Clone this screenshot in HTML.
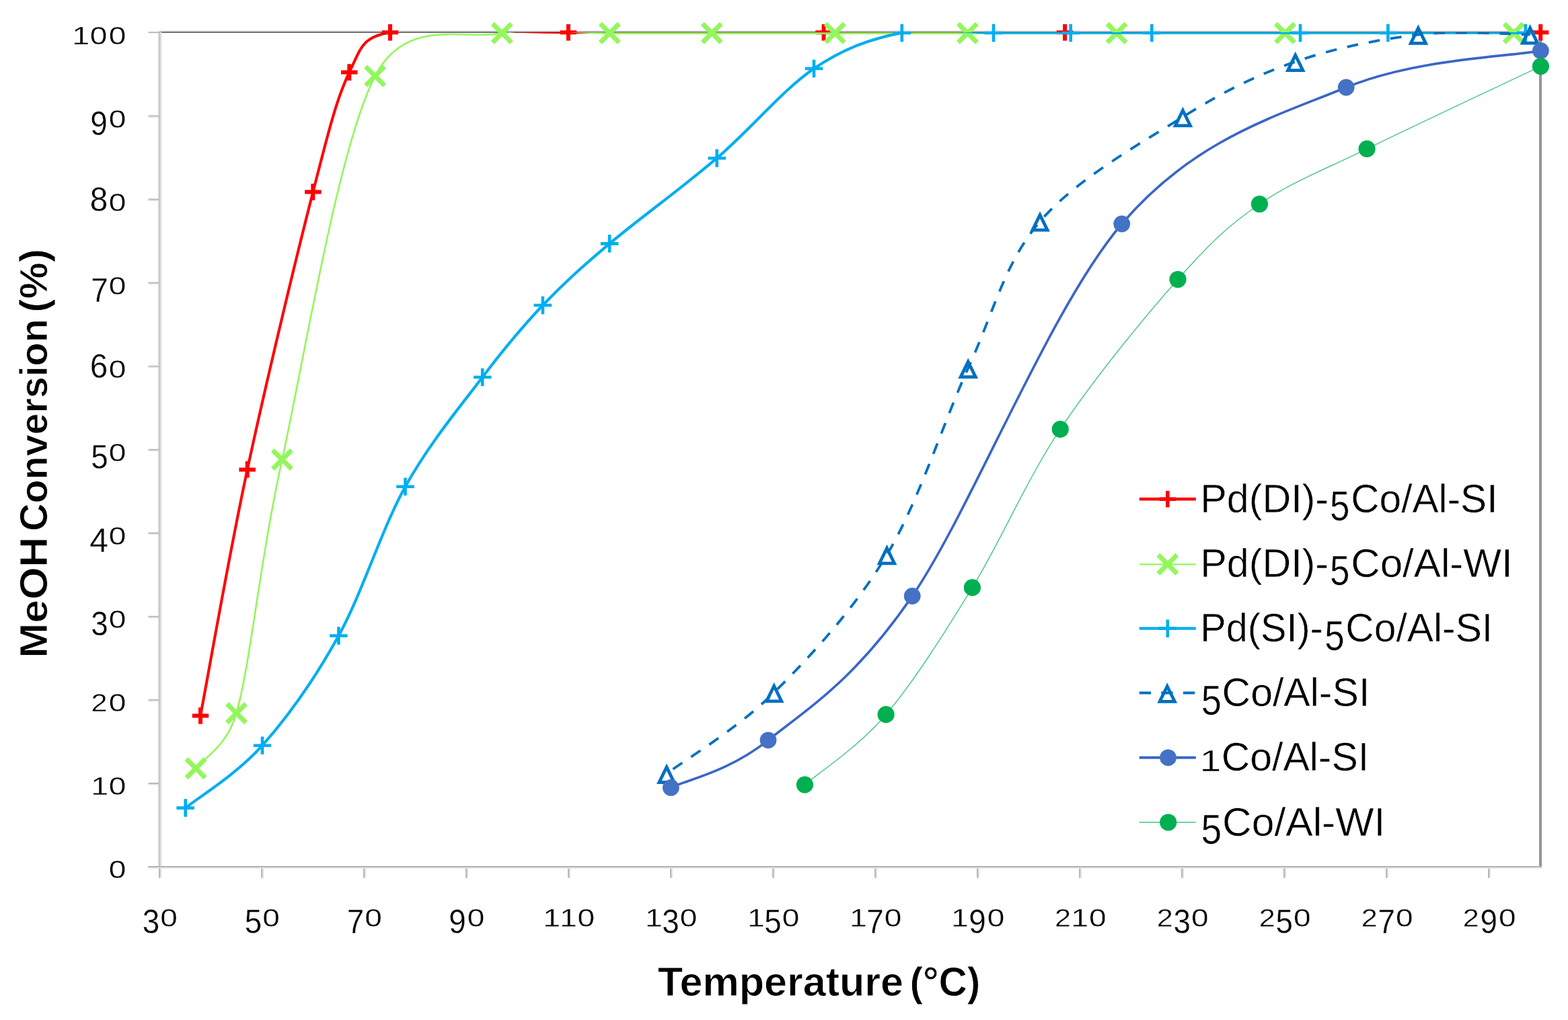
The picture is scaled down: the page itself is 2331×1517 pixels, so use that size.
<!DOCTYPE html><html><head><meta charset="utf-8"><title>MeOH Conversion vs Temperature</title>
<style>html,body{margin:0;padding:0;background:#fff;}svg{display:block;}text{font-family:"Liberation Sans",Arial,sans-serif;fill:#000;}text.d{stroke:#fff;stroke-width:0.35px;}text.l{stroke:#fff;stroke-width:0.5px;}text.t{stroke:#fff;stroke-width:0.8px;}</style></head><body>
<svg width="2331" height="1517" viewBox="0 0 2331 1517">
<rect width="2331" height="1517" fill="#fff"/>
<defs><clipPath id="pa"><rect x="238" y="48" width="2052" height="1241"/></clipPath></defs>
<path d="M220.5,174.1H237M220.5,298.2H237M220.5,422.2H237M220.5,546.3H237M220.5,670.4H237M220.5,794.5H237M220.5,918.6H237M220.5,1042.6H237M220.5,1166.7H237M220.5,1290.8H237" stroke="#E2E2E2" stroke-width="1.6" fill="none"/>
<path d="M220.5,48.3H237M220.5,172.4H237M220.5,296.5H237M220.5,420.5H237M220.5,544.6H237M220.5,668.7H237M220.5,792.8H237M220.5,916.9H237M220.5,1040.9H237M220.5,1165H237M220.5,1289.1H237" stroke="#B8B8B8" stroke-width="1.9" fill="none"/>
<path d="M238.9,1289V1305.8M390.9,1289V1305.8M542.9,1289V1305.8M694.9,1289V1305.8M846.9,1289V1305.8M998.9,1289V1305.8M1150.9,1289V1305.8M1302.9,1289V1305.8M1454.9,1289V1305.8M1606.9,1289V1305.8M1758.9,1289V1305.8M1910.9,1289V1305.8M2062.9,1289V1305.8M2214.9,1289V1305.8" stroke="#DDDDDD" stroke-width="1.8" fill="none"/>
<path d="M237,1289V1305.8M389,1289V1305.8M541,1289V1305.8M693,1289V1305.8M845,1289V1305.8M997,1289V1305.8M1149,1289V1305.8M1301,1289V1305.8M1453,1289V1305.8M1605,1289V1305.8M1757,1289V1305.8M1909,1289V1305.8M2061,1289V1305.8M2213,1289V1305.8" stroke="#B8B8B8" stroke-width="2" fill="none"/>
<path d="M237,46.2H2292" stroke="#E2DDE6" stroke-width="2" fill="none"/>
<path d="M237,48H2292" stroke="#727272" stroke-width="2" fill="none"/>
<path d="M2290,47.5V1290" stroke="#959595" stroke-width="4" fill="none"/>
<path d="M238.9,47.5V1290.8" stroke="#DCDCDC" stroke-width="2.8" fill="none"/>
<path d="M236.6,47.5V1290.8" stroke="#BBBBBB" stroke-width="1.9" fill="none"/>
<path d="M220.5,1290.85H2292" stroke="#E6E6E6" stroke-width="1.7" fill="none"/>
<path d="M220.5,1289H2292" stroke="#B3B3B3" stroke-width="2" fill="none"/>
<text class="d" x="120.2" y="65.6" font-size="36" text-anchor="middle" textLength="26" lengthAdjust="spacingAndGlyphs">1</text>
<text class="d" x="146.6" y="65.6" font-size="36" text-anchor="middle" textLength="25.6" lengthAdjust="spacingAndGlyphs">0</text>
<text class="d" x="174.6" y="65.6" font-size="36" text-anchor="middle" textLength="25.6" lengthAdjust="spacingAndGlyphs">0</text>
<text class="d" x="147.1" y="200.5" font-size="50.5" text-anchor="middle" textLength="25.5" lengthAdjust="spacingAndGlyphs">9</text>
<text class="d" x="174.6" y="189.7" font-size="36" text-anchor="middle" textLength="25.6" lengthAdjust="spacingAndGlyphs">0</text>
<text class="d" x="147.1" y="313.8" font-size="50.5" text-anchor="middle" textLength="26.5" lengthAdjust="spacingAndGlyphs">8</text>
<text class="d" x="174.6" y="313.8" font-size="36" text-anchor="middle" textLength="25.6" lengthAdjust="spacingAndGlyphs">0</text>
<text class="d" x="148.1" y="448.6" font-size="50.5" text-anchor="middle" textLength="25.5" lengthAdjust="spacingAndGlyphs">7</text>
<text class="d" x="174.6" y="437.8" font-size="36" text-anchor="middle" textLength="25.6" lengthAdjust="spacingAndGlyphs">0</text>
<text class="d" x="147.1" y="561.9" font-size="50.5" text-anchor="middle" textLength="26.5" lengthAdjust="spacingAndGlyphs">6</text>
<text class="d" x="174.6" y="561.9" font-size="36" text-anchor="middle" textLength="25.6" lengthAdjust="spacingAndGlyphs">0</text>
<text class="d" x="148.1" y="696.8" font-size="50.5" text-anchor="middle" textLength="25.5" lengthAdjust="spacingAndGlyphs">5</text>
<text class="d" x="174.6" y="686" font-size="36" text-anchor="middle" textLength="25.6" lengthAdjust="spacingAndGlyphs">0</text>
<text class="d" x="147.1" y="820.9" font-size="50.5" text-anchor="middle" textLength="27.8" lengthAdjust="spacingAndGlyphs">4</text>
<text class="d" x="174.6" y="810.1" font-size="36" text-anchor="middle" textLength="25.6" lengthAdjust="spacingAndGlyphs">0</text>
<text class="d" x="148.1" y="945" font-size="50.5" text-anchor="middle" textLength="25.5" lengthAdjust="spacingAndGlyphs">3</text>
<text class="d" x="174.6" y="934.2" font-size="36" text-anchor="middle" textLength="25.6" lengthAdjust="spacingAndGlyphs">0</text>
<text class="d" x="147.6" y="1058.2" font-size="36" text-anchor="middle" textLength="24" lengthAdjust="spacingAndGlyphs">2</text>
<text class="d" x="174.6" y="1058.2" font-size="36" text-anchor="middle" textLength="25.6" lengthAdjust="spacingAndGlyphs">0</text>
<text class="d" x="148.2" y="1182.3" font-size="36" text-anchor="middle" textLength="26" lengthAdjust="spacingAndGlyphs">1</text>
<text class="d" x="174.6" y="1182.3" font-size="36" text-anchor="middle" textLength="25.6" lengthAdjust="spacingAndGlyphs">0</text>
<text class="d" x="174.6" y="1306.4" font-size="36" text-anchor="middle" textLength="25.6" lengthAdjust="spacingAndGlyphs">0</text>
<text class="d" x="224.6" y="1388.3" font-size="50.5" text-anchor="middle" textLength="25.5" lengthAdjust="spacingAndGlyphs">3</text>
<text class="d" x="251.1" y="1377.5" font-size="36" text-anchor="middle" textLength="25.6" lengthAdjust="spacingAndGlyphs">0</text>
<text class="d" x="376.6" y="1388.3" font-size="50.5" text-anchor="middle" textLength="25.5" lengthAdjust="spacingAndGlyphs">5</text>
<text class="d" x="403.1" y="1377.5" font-size="36" text-anchor="middle" textLength="25.6" lengthAdjust="spacingAndGlyphs">0</text>
<text class="d" x="528.5" y="1388.3" font-size="50.5" text-anchor="middle" textLength="25.5" lengthAdjust="spacingAndGlyphs">7</text>
<text class="d" x="555" y="1377.5" font-size="36" text-anchor="middle" textLength="25.6" lengthAdjust="spacingAndGlyphs">0</text>
<text class="d" x="680" y="1388.3" font-size="50.5" text-anchor="middle" textLength="25.5" lengthAdjust="spacingAndGlyphs">9</text>
<text class="d" x="707.5" y="1377.5" font-size="36" text-anchor="middle" textLength="25.6" lengthAdjust="spacingAndGlyphs">0</text>
<text class="d" x="820.2" y="1377.5" font-size="36" text-anchor="middle" textLength="26" lengthAdjust="spacingAndGlyphs">1</text>
<text class="d" x="845" y="1377.5" font-size="36" text-anchor="middle" textLength="26" lengthAdjust="spacingAndGlyphs">1</text>
<text class="d" x="871.4" y="1377.5" font-size="36" text-anchor="middle" textLength="25.6" lengthAdjust="spacingAndGlyphs">0</text>
<text class="d" x="972.1" y="1377.5" font-size="36" text-anchor="middle" textLength="26" lengthAdjust="spacingAndGlyphs">1</text>
<text class="d" x="997" y="1388.3" font-size="50.5" text-anchor="middle" textLength="25.5" lengthAdjust="spacingAndGlyphs">3</text>
<text class="d" x="1023.5" y="1377.5" font-size="36" text-anchor="middle" textLength="25.6" lengthAdjust="spacingAndGlyphs">0</text>
<text class="d" x="1124.1" y="1377.5" font-size="36" text-anchor="middle" textLength="26" lengthAdjust="spacingAndGlyphs">1</text>
<text class="d" x="1149" y="1388.3" font-size="50.5" text-anchor="middle" textLength="25.5" lengthAdjust="spacingAndGlyphs">5</text>
<text class="d" x="1175.5" y="1377.5" font-size="36" text-anchor="middle" textLength="25.6" lengthAdjust="spacingAndGlyphs">0</text>
<text class="d" x="1276.1" y="1377.5" font-size="36" text-anchor="middle" textLength="26" lengthAdjust="spacingAndGlyphs">1</text>
<text class="d" x="1301" y="1388.3" font-size="50.5" text-anchor="middle" textLength="25.5" lengthAdjust="spacingAndGlyphs">7</text>
<text class="d" x="1327.5" y="1377.5" font-size="36" text-anchor="middle" textLength="25.6" lengthAdjust="spacingAndGlyphs">0</text>
<text class="d" x="1427.1" y="1377.5" font-size="36" text-anchor="middle" textLength="26" lengthAdjust="spacingAndGlyphs">1</text>
<text class="d" x="1453" y="1388.3" font-size="50.5" text-anchor="middle" textLength="25.5" lengthAdjust="spacingAndGlyphs">9</text>
<text class="d" x="1480.5" y="1377.5" font-size="36" text-anchor="middle" textLength="25.6" lengthAdjust="spacingAndGlyphs">0</text>
<text class="d" x="1579.9" y="1377.5" font-size="36" text-anchor="middle" textLength="24" lengthAdjust="spacingAndGlyphs">2</text>
<text class="d" x="1605.3" y="1377.5" font-size="36" text-anchor="middle" textLength="26" lengthAdjust="spacingAndGlyphs">1</text>
<text class="d" x="1631.7" y="1377.5" font-size="36" text-anchor="middle" textLength="25.6" lengthAdjust="spacingAndGlyphs">0</text>
<text class="d" x="1731.8" y="1377.5" font-size="36" text-anchor="middle" textLength="24" lengthAdjust="spacingAndGlyphs">2</text>
<text class="d" x="1757.3" y="1388.3" font-size="50.5" text-anchor="middle" textLength="25.5" lengthAdjust="spacingAndGlyphs">3</text>
<text class="d" x="1783.8" y="1377.5" font-size="36" text-anchor="middle" textLength="25.6" lengthAdjust="spacingAndGlyphs">0</text>
<text class="d" x="1883.8" y="1377.5" font-size="36" text-anchor="middle" textLength="24" lengthAdjust="spacingAndGlyphs">2</text>
<text class="d" x="1909.3" y="1388.3" font-size="50.5" text-anchor="middle" textLength="25.5" lengthAdjust="spacingAndGlyphs">5</text>
<text class="d" x="1935.8" y="1377.5" font-size="36" text-anchor="middle" textLength="25.6" lengthAdjust="spacingAndGlyphs">0</text>
<text class="d" x="2035.8" y="1377.5" font-size="36" text-anchor="middle" textLength="24" lengthAdjust="spacingAndGlyphs">2</text>
<text class="d" x="2061.3" y="1388.3" font-size="50.5" text-anchor="middle" textLength="25.5" lengthAdjust="spacingAndGlyphs">7</text>
<text class="d" x="2087.8" y="1377.5" font-size="36" text-anchor="middle" textLength="25.6" lengthAdjust="spacingAndGlyphs">0</text>
<text class="d" x="2186.8" y="1377.5" font-size="36" text-anchor="middle" textLength="24" lengthAdjust="spacingAndGlyphs">2</text>
<text class="d" x="2213.3" y="1388.3" font-size="50.5" text-anchor="middle" textLength="25.5" lengthAdjust="spacingAndGlyphs">9</text>
<text class="d" x="2240.8" y="1377.5" font-size="36" text-anchor="middle" textLength="25.6" lengthAdjust="spacingAndGlyphs">0</text>
<path clip-path="url(#pa)" d="M298,1064.5 C309.6,1003.5 339.8,828.2 367.7,698.4 C395.6,568.6 440,384 465.3,285.5 C488.4,195.4 500.2,147.1 519.3,107.5 C537.8,69.2 538.2,55.6 580,47.9 C634.3,38 737.5,47.9 844.9,47.9 C952.3,47.9 1101.6,47.9 1224.6,47.9 C1347.6,47.9 1405.5,47.9 1583.1,47.9 C1760.7,47.9 2172.3,47.9 2290.2,47.9" stroke="#FF0000" stroke-width="4.1" fill="none" stroke-linejoin="round"/>
<path d="M285.8,1064.5H310.2M298,1052.2V1076.8" stroke="#FF0000" stroke-width="6" fill="none"/>
<path d="M355.4,698.4H379.9M367.7,686.1V710.6" stroke="#FF0000" stroke-width="6" fill="none"/>
<path d="M453.1,285.5H477.6M465.3,273.2V297.8" stroke="#FF0000" stroke-width="6" fill="none"/>
<path d="M507,107.5H531.5M519.3,95.2V119.8" stroke="#FF0000" stroke-width="6" fill="none"/>
<path d="M567.8,48.2H592.2M580,36V60.5" stroke="#FF0000" stroke-width="6" fill="none"/>
<path d="M832.6,48.2H857.1M844.9,36V60.5" stroke="#FF0000" stroke-width="6" fill="none"/>
<path d="M1212.3,48.2H1236.8M1224.6,36V60.5" stroke="#FF0000" stroke-width="6" fill="none"/>
<path d="M1570.8,48.2H1595.3M1583.1,36V60.5" stroke="#FF0000" stroke-width="6" fill="none"/>
<path d="M2277.9,48.3H2302.4M2290.2,36V60.5" stroke="#FF0000" stroke-width="6" fill="none"/>
<path clip-path="url(#pa)" d="M291.1,1142.8 C301.2,1129.1 337.8,1109.8 351.5,1060.7 C372.9,984.2 385,841.4 419.4,683.5 C453.8,525.6 503.1,218.8 557.6,113.1 C603.2,24.6 688.2,60.2 746.3,49.6 C804.4,39 854.4,49.6 906.4,49.6 C958.4,49.6 1002.5,49.6 1058.3,49.6 C1114.1,49.6 1177.9,49.6 1241.3,49.6 C1304.7,49.6 1368.6,49.6 1438.4,49.6 C1508.2,49.6 1581.3,49.6 1660,49.6 C1738.7,49.6 1812.1,49.6 1910.5,49.6 C2008.9,49.6 2193.7,49.6 2250.3,49.6" stroke="#92F75C" stroke-width="2.6" fill="none" stroke-linejoin="round"/>
<path d="M277.1,1128.8L305.1,1156.8M277.1,1156.8L305.1,1128.8" stroke="#92F75C" stroke-width="7" fill="none"/>
<path d="M337.5,1046.7L365.5,1074.7M337.5,1074.7L365.5,1046.7" stroke="#92F75C" stroke-width="7" fill="none"/>
<path d="M405.4,669.5L433.4,697.5M405.4,697.5L433.4,669.5" stroke="#92F75C" stroke-width="7" fill="none"/>
<path d="M543.6,99.1L571.6,127.1M543.6,127.1L571.6,99.1" stroke="#92F75C" stroke-width="7" fill="none"/>
<path d="M732.3,35.3L760.3,63.3M732.3,63.3L760.3,35.3" stroke="#92F75C" stroke-width="7" fill="none"/>
<path d="M892.4,35.3L920.4,63.3M892.4,63.3L920.4,35.3" stroke="#92F75C" stroke-width="7" fill="none"/>
<path d="M1044.3,35.3L1072.3,63.3M1044.3,63.3L1072.3,35.3" stroke="#92F75C" stroke-width="7" fill="none"/>
<path d="M1227.3,35.3L1255.3,63.3M1227.3,63.3L1255.3,35.3" stroke="#92F75C" stroke-width="7" fill="none"/>
<path d="M1424.4,35.3L1452.4,63.3M1424.4,63.3L1452.4,35.3" stroke="#92F75C" stroke-width="7" fill="none"/>
<path d="M1646,35.3L1674,63.3M1646,63.3L1674,35.3" stroke="#92F75C" stroke-width="7" fill="none"/>
<path d="M1896.5,35.3L1924.5,63.3M1896.5,63.3L1924.5,35.3" stroke="#92F75C" stroke-width="7" fill="none"/>
<path d="M2236.3,35.3L2264.3,63.3M2236.3,63.3L2264.3,35.3" stroke="#92F75C" stroke-width="7" fill="none"/>
<path clip-path="url(#pa)" d="M275.7,1201.6 C294.8,1186.1 352.1,1151.4 390,1108.7 C427.9,1066 468,1009.6 503.4,945.5 C538.8,881.4 566.9,787.9 602.5,723.8 C638.1,659.7 683.1,606 717.2,561 C751.3,516 775.4,487.1 806.9,454 C838.4,420.9 863,398.9 906.1,362.4 C949.2,325.9 1015.1,278.6 1065.7,235.2 C1116.4,191.8 1164.2,133.1 1210,102 C1255.8,70.9 1296.3,57.5 1340.8,48.6 C1385.3,39.7 1435.2,48.6 1477,48.6 C1518.8,48.6 1552.5,48.6 1591.7,48.6 C1630.9,48.6 1655.4,48.6 1712.3,48.6 C1769.2,48.6 1874.5,48.6 1933,48.6 C1991.5,48.6 2007.6,48.6 2063.4,48.6 C2119.2,48.6 2233.8,48.6 2267.9,48.6" stroke="#00AEEF" stroke-width="4.2" fill="none" stroke-linejoin="round"/>
<path d="M262.4,1201.6H288.9M275.7,1188.3V1214.8" stroke="#00AEEF" stroke-width="4.6" fill="none"/>
<path d="M376.8,1108.7H403.2M390,1095.5V1122" stroke="#00AEEF" stroke-width="4.6" fill="none"/>
<path d="M490.1,945.5H516.6M503.4,932.2V958.8" stroke="#00AEEF" stroke-width="4.6" fill="none"/>
<path d="M589.2,723.8H615.8M602.5,710.5V737" stroke="#00AEEF" stroke-width="4.6" fill="none"/>
<path d="M704,561H730.5M717.2,547.8V574.2" stroke="#00AEEF" stroke-width="4.6" fill="none"/>
<path d="M793.6,454H820.1M806.9,440.8V467.2" stroke="#00AEEF" stroke-width="4.6" fill="none"/>
<path d="M892.9,362.4H919.4M906.1,349.1V375.6" stroke="#00AEEF" stroke-width="4.6" fill="none"/>
<path d="M1052.5,235.2H1079M1065.7,221.9V248.4" stroke="#00AEEF" stroke-width="4.6" fill="none"/>
<path d="M1196.8,102H1223.2M1210,88.8V115.2" stroke="#00AEEF" stroke-width="4.6" fill="none"/>
<path d="M1327.5,49H1354M1340.8,35.8V62.2" stroke="#00AEEF" stroke-width="4.6" fill="none"/>
<path d="M1463.8,49H1490.2M1477,35.8V62.2" stroke="#00AEEF" stroke-width="4.6" fill="none"/>
<path d="M1578.5,49H1605M1591.7,35.8V62.2" stroke="#00AEEF" stroke-width="4.6" fill="none"/>
<path d="M1699,49H1725.5M1712.3,35.8V62.2" stroke="#00AEEF" stroke-width="4.6" fill="none"/>
<path d="M1919.8,49H1946.2M1933,35.8V62.2" stroke="#00AEEF" stroke-width="4.6" fill="none"/>
<path d="M2050.2,49H2076.7M2063.4,35.8V62.2" stroke="#00AEEF" stroke-width="4.6" fill="none"/>
<path d="M2254.7,49H2281.2M2267.9,35.8V62.2" stroke="#00AEEF" stroke-width="4.6" fill="none"/>
<path clip-path="url(#pa)" d="M991,1150.7 C1017.6,1130.6 1096.1,1084.3 1150.7,1030 C1205.3,975.7 1270.4,905.4 1318.5,825 C1366.6,744.6 1401.3,630.4 1439.2,547.8 C1477.1,465.2 1492.8,391.7 1546,329.4 C1599.2,267.1 1695.1,213.6 1758.4,174 C1821.7,134.4 1867.4,112.2 1925.7,91.8 C1984,71.4 2050.2,58.4 2108.4,51.6 C2166.6,44.9 2246.9,51.3 2274.6,51.3" stroke="#0070C0" stroke-width="3.8" fill="none" stroke-linejoin="round" stroke-dashoffset="20.8" stroke-dasharray="16.7 15.9"/>
<path d="M991,1140.9L1002.1,1163.5L979.9,1163.5Z" stroke="#0070C0" stroke-width="4.8" fill="none" stroke-linejoin="miter"/>
<path d="M1150.7,1020.2L1161.8,1042.8L1139.6,1042.8Z" stroke="#0070C0" stroke-width="4.8" fill="none" stroke-linejoin="miter"/>
<path d="M1318.5,815.2L1329.6,837.8L1307.4,837.8Z" stroke="#0070C0" stroke-width="4.8" fill="none" stroke-linejoin="miter"/>
<path d="M1439.2,538L1450.3,560.6L1428.1,560.6Z" stroke="#0070C0" stroke-width="4.8" fill="none" stroke-linejoin="miter"/>
<path d="M1546,319.6L1557.1,342.2L1534.9,342.2Z" stroke="#0070C0" stroke-width="4.8" fill="none" stroke-linejoin="miter"/>
<path d="M1758.4,164.2L1769.5,186.8L1747.3,186.8Z" stroke="#0070C0" stroke-width="4.8" fill="none" stroke-linejoin="miter"/>
<path d="M1925.7,82L1936.8,104.6L1914.6,104.6Z" stroke="#0070C0" stroke-width="4.8" fill="none" stroke-linejoin="miter"/>
<path d="M2108.4,41.8L2119.5,64.4L2097.3,64.4Z" stroke="#0070C0" stroke-width="4.8" fill="none" stroke-linejoin="miter"/>
<path d="M2274.6,41.5L2285.7,64.1L2263.5,64.1Z" stroke="#0070C0" stroke-width="4.8" fill="none" stroke-linejoin="miter"/>
<path clip-path="url(#pa)" d="M997.4,1171.4 C1021.5,1159.6 1082.2,1148.3 1142,1100.8 C1201.8,1053.3 1270.6,1011.5 1356.2,886.5 C1443.8,758.5 1560.2,459.1 1667.7,333 C1775.2,206.9 1897.4,172.9 2001.2,130 C2105,87.1 2242.2,84.5 2290.4,75.4" stroke="#3A66C6" stroke-width="3.6" fill="none" stroke-linejoin="round"/>
<circle cx="997.4" cy="1171.4" r="12.4" fill="#4472C4"/>
<circle cx="1142" cy="1100.8" r="12.4" fill="#4472C4"/>
<circle cx="1356.2" cy="886.5" r="12.4" fill="#4472C4"/>
<circle cx="1667.7" cy="333" r="12.4" fill="#4472C4"/>
<circle cx="2001.2" cy="130" r="12.4" fill="#4472C4"/>
<circle cx="2290.4" cy="75.4" r="12.4" fill="#4472C4"/>
<path clip-path="url(#pa)" d="M1196.4,1167.1 C1216.5,1149.7 1275.6,1111.6 1317.1,1062.7 C1358.6,1013.8 1402.2,944.6 1445.4,873.9 C1488.6,803.2 1525.3,714.8 1576.2,638.4 C1627.1,562 1701.6,471.3 1751,415.5 C1800.4,359.7 1825.6,335.9 1872.4,303.5 C1919.2,271.1 1962.4,255.5 2032.1,221.3 C2101.8,187.2 2247.3,119 2290.4,98.6" stroke="#00B050" stroke-width="1.5" fill="none" stroke-linejoin="round" stroke-opacity="0.7"/>
<circle cx="1196.4" cy="1167.1" r="12.6" fill="#00B050"/>
<circle cx="1317.1" cy="1062.7" r="12.6" fill="#00B050"/>
<circle cx="1445.4" cy="873.9" r="12.6" fill="#00B050"/>
<circle cx="1576.2" cy="638.4" r="12.6" fill="#00B050"/>
<circle cx="1751" cy="415.5" r="12.6" fill="#00B050"/>
<circle cx="1872.4" cy="303.5" r="12.6" fill="#00B050"/>
<circle cx="2032.1" cy="221.3" r="12.6" fill="#00B050"/>
<circle cx="2290.4" cy="98.6" r="12.6" fill="#00B050"/>
<path d="M1693.7,742.3H1777.8" stroke="#FF0000" stroke-width="4.6"/>
<path d="M1723.5,742.3H1748M1735.8,730V754.5" stroke="#FF0000" stroke-width="5.6" fill="none"/>
<path d="M1693.7,839.3H1777.8" stroke="#92F75C" stroke-width="2.2"/>
<path d="M1721.8,825.3L1749.8,853.3M1721.8,853.3L1749.8,825.3" stroke="#92F75C" stroke-width="7" fill="none"/>
<path d="M1693.7,934.6H1777.8" stroke="#00AEEF" stroke-width="4.2"/>
<path d="M1722.5,934.6H1749M1735.8,921.4V947.9" stroke="#00AEEF" stroke-width="4.6" fill="none"/>
<path d="M1693.7,1030.5H1777.8" stroke="#0070C0" stroke-width="3.8" stroke-dasharray="17.3 15.3"/>
<path d="M1735.2,1020.7L1746.3,1043.3L1724.1,1043.3Z" stroke="#0070C0" stroke-width="4.8" fill="none" stroke-linejoin="miter"/>
<path d="M1693.7,1126.8H1777.8" stroke="#3A66C6" stroke-width="4"/>
<circle cx="1736.5" cy="1126.8" r="12.4" fill="#4472C4"/>
<path d="M1693.7,1223H1777.8" stroke="#00B050" stroke-width="1.6" stroke-opacity="0.75"/>
<circle cx="1736.7" cy="1223" r="12.6" fill="#00B050"/>
<text class="t" x="977.8" y="1480.7" font-size="60.5" font-weight="bold" textLength="365.2" lengthAdjust="spacingAndGlyphs">Temperature</text>
<text class="t" x="1352.5" y="1480.7" font-size="60.5" font-weight="bold" textLength="104.9" lengthAdjust="spacingAndGlyphs">(°C)</text>
<text class="t" transform="translate(70,974) rotate(-90)" x="-4.4" y="0" font-size="58" font-weight="bold" textLength="180" lengthAdjust="spacingAndGlyphs">MeOH</text>
<text class="t" transform="translate(70,787) rotate(-90)" x="-2.9" y="0" font-size="58" font-weight="bold" textLength="315.6" lengthAdjust="spacingAndGlyphs">Conversion</text>
<text class="t" transform="translate(70,461) rotate(-90)" x="-3.7" y="0" font-size="58" font-weight="bold" textLength="94.8" lengthAdjust="spacingAndGlyphs">(%)</text>
<text class="l" x="1784.2" y="761.6" font-size="60" textLength="190.9" lengthAdjust="spacingAndGlyphs">Pd(DI)-</text>
<text class="l" x="1977.1" y="774.1" font-size="62.2" textLength="29.4" lengthAdjust="spacingAndGlyphs">5</text>
<text class="l" x="2008.3" y="761.6" font-size="60" textLength="218.2" lengthAdjust="spacingAndGlyphs">Co/Al-SI</text>
<text class="l" x="1784.2" y="857.8" font-size="60" textLength="190.9" lengthAdjust="spacingAndGlyphs">Pd(DI)-</text>
<text class="l" x="1977.1" y="870.3" font-size="62.2" textLength="29.4" lengthAdjust="spacingAndGlyphs">5</text>
<text class="l" x="2008.2" y="857.8" font-size="60" textLength="240.6" lengthAdjust="spacingAndGlyphs">Co/Al-WI</text>
<text class="l" x="1784.3" y="954" font-size="60" textLength="182.5" lengthAdjust="spacingAndGlyphs">Pd(SI)-</text>
<text class="l" x="1969.2" y="966.5" font-size="62.2" textLength="29.4" lengthAdjust="spacingAndGlyphs">5</text>
<text class="l" x="2000.3" y="954" font-size="60" textLength="218.9" lengthAdjust="spacingAndGlyphs">Co/Al-SI</text>
<text class="l" x="1785.8" y="1062.7" font-size="62.2" textLength="30.2" lengthAdjust="spacingAndGlyphs">5</text>
<text class="l" x="1816.5" y="1050.2" font-size="60" textLength="219.8" lengthAdjust="spacingAndGlyphs">Co/Al-SI</text>
<text class="l" x="1783.5" y="1146.8" font-size="43.6" textLength="32" lengthAdjust="spacingAndGlyphs">1</text>
<text class="l" x="1815.7" y="1146.4" font-size="60" textLength="219.4" lengthAdjust="spacingAndGlyphs">Co/Al-SI</text>
<text class="l" x="1785.6" y="1255.1" font-size="62.2" textLength="30.7" lengthAdjust="spacingAndGlyphs">5</text>
<text class="l" x="1817" y="1242.6" font-size="60" textLength="242.3" lengthAdjust="spacingAndGlyphs">Co/Al-WI</text>
</svg></body></html>
